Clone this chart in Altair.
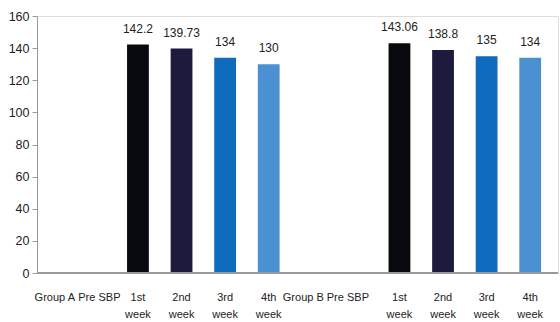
import altair as alt
import pandas as pd

# category slots along the x axis (unique keys) and their displayed labels
slot_keys = ["s0", "s1", "s2", "s3", "s4", "s5", "s6", "s7", "s8", "s9", "s10", "s11"]
slot_labels = [["Group A"], ["Pre SBP"], ["1st", "week"], ["2nd", "week"], ["3rd", "week"], ["4th", "week"],
               ["Group B"], ["Pre SBP"], ["1st", "week"], ["2nd", "week"], ["3rd", "week"], ["4th", "week"]]

# bars
bar_slots = ["s2", "s3", "s4", "s5", "s8", "s9", "s10", "s11"]
bar_weeks = ["1st week", "2nd week", "3rd week", "4th week", "1st week", "2nd week", "3rd week", "4th week"]
bar_values = [142.2, 139.73, 134, 130, 143.06, 138.8, 135, 134]
bar_text = ["142.2", "139.73", "134", "130", "143.06", "138.8", "135", "134"]

y_ticks = [0, 20, 40, 60, 80, 100, 120, 140, 160]

week_names = ["1st week", "2nd week", "3rd week", "4th week"]
week_colors = ["#08080f", "#1d1b3d", "#0f6bbd", "#4b91d2"]

df = pd.DataFrame({"slot": bar_slots, "week": bar_weeks, "value": bar_values, "text": bar_text})

FONT = "Liberation Sans Narrow, Liberation Sans, sans-serif"

keys_js = "[" + ",".join("'" + k + "'" for k in slot_keys) + "]"
label_lookup = "[" + ",".join("[" + ",".join("'" + t + "'" for t in lab) + "]" for lab in slot_labels) + "]"
label_expr = label_lookup + "[indexof(" + keys_js + ", datum.value)]"

label_offset = {
    "condition": [
        {"test": "datum.value == 's0'", "value": 4},
        {"test": "datum.value == 's1'", "value": 5},
        {"test": "datum.value == 's6'", "value": -9},
        {"test": "datum.value == 's7'", "value": -8},
    ],
    "value": 0,
}

x = alt.X(
    "slot:N",
    scale=alt.Scale(domain=slot_keys, range=[-8, 515], paddingInner=0.5, paddingOuter=0.25),
    axis=alt.Axis(
        title=None, labelAngle=0, ticks=False, domain=False,
        labelExpr=label_expr, labelFont=FONT, labelFontSize=11, labelColor="#222222",
        labelPadding=24, labelLineHeight=17, labelBaseline="middle",
        labelOffset=label_offset,
    ),
)
y_scale = alt.Scale(domain=[0, 160], nice=False)
y_axis = alt.Axis(
    title=None, values=y_ticks, grid=False,
    domainColor="#9a9a9a", tickColor="#9a9a9a", tickSize=5, labelPadding=3,
    labelFont=FONT, labelFontSize=12.5, labelColor="#222222",
)
y = alt.Y("value:Q", scale=y_scale, axis=y_axis)

bars = alt.Chart(df).mark_bar().encode(
    x=x,
    y=y,
    color=alt.Color("week:N", scale=alt.Scale(domain=week_names, range=week_colors), legend=None),
)

baseline = alt.Chart(df).mark_rule(color="#9a9a9a", strokeWidth=1.2).encode(
    y=alt.Y(datum=0, type="quantitative", scale=y_scale, axis=y_axis),
    x=alt.value(0), x2=alt.value(521),
)

labels = alt.Chart(df).mark_text(
    baseline="bottom", align="center", dy=-9, font=FONT, fontSize=12, color="#222222"
).encode(x=x, y=y, text="text:N")

chart = (bars + baseline + labels).properties(
    width=521, height=257,
    autosize=alt.AutoSizeParams(type="none"),
    padding={"left": 37, "top": 16, "right": 2, "bottom": 49},
).configure_view(stroke=None).configure(background="white")

chart.save("out.html", embed_options={"renderer": "svg", "actions": False})
